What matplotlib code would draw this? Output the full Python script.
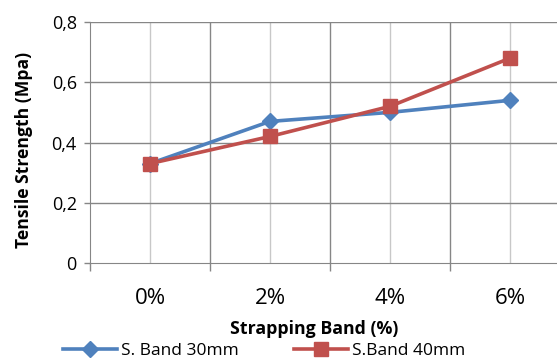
import matplotlib.pyplot as plt
from matplotlib.ticker import FuncFormatter

categories = ['0%', '2%', '4%', '6%']
band_30 = [0.33, 0.47, 0.50, 0.54]
band_40 = [0.33, 0.42, 0.52, 0.68]
y_ticks = [0, 0.2, 0.4, 0.6, 0.8]

plt.rcParams['font.family'] = ['Open Sans', 'DejaVu Sans']

fig = plt.figure(figsize=(5.57, 3.61), dpi=100)
W, H = 557, 361
ax = fig.add_axes([90 / W, 1 - 263 / H, 480 / W, 241 / H])

x = range(len(categories))
ax.plot(x, band_30, color='#4F81BD', lw=2.6, marker='D', ms=8.5,
        label='S. Band 30mm', zorder=3)
ax.plot(x, band_40, color='#C0504D', lw=2.6, marker='s', ms=10,
        label='S.Band 40mm', zorder=3)

ax.set_xlim(-0.5, 3.5)
ax.set_ylim(0, 0.8)
ax.set_yticks(y_ticks)
ax.yaxis.set_major_formatter(FuncFormatter(lambda v, p: '0' if v == 0 else f'{v:.1f}'.replace('.', ',')))

# category boundaries (dark) and category centres (light)
for b in [0.5, 1.5, 2.5, 3.5]:
    ax.axvline(b, color='#868686', lw=1, zorder=1)
for c in x:
    ax.axvline(c, color='#C8C8C8', lw=1, zorder=1)
for t in y_ticks[1:]:
    ax.axhline(t, color='#868686', lw=1, zorder=1)

ax.set_xticks(list(x))
ax.set_xticklabels(categories, fontsize=16)
ax.tick_params(axis='x', length=0, pad=18)
ax.set_xticks([-0.5, 0.5, 1.5, 2.5, 3.5], minor=True)
ax.tick_params(axis='x', which='minor', length=6, color='#868686', width=1)
ax.tick_params(axis='y', labelsize=13, length=4.5, color='#868686', width=1, pad=5)

for s in ['top', 'right']:
    ax.spines[s].set_visible(False)
ax.spines['left'].set_color('#868686')
ax.spines['bottom'].set_color('#868686')

ax.set_xlabel('Strapping Band (%)', fontsize=12.8, fontweight='bold')
ax.xaxis.set_label_coords(0.467, -0.236)
ax.set_ylabel('Tensile Strength (Mpa)', fontsize=12.6, fontweight='bold')
ax.yaxis.set_label_coords(-0.119, 0.47)

fig.legend(loc='lower left', bbox_to_anchor=(61 / W, 0), ncol=2, frameon=False,
           fontsize=12.5, handlelength=3.1, columnspacing=3.2, handletextpad=0.23,
           borderaxespad=0, borderpad=0.1)

fig.savefig('out.png', dpi=100)
